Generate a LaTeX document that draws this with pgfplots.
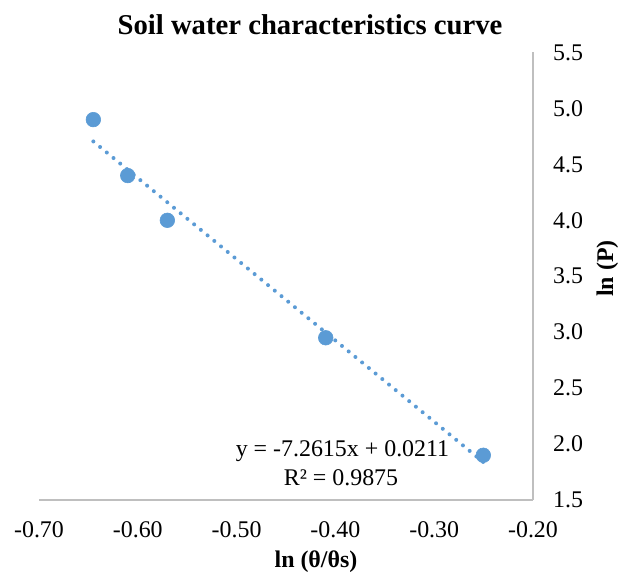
\documentclass[border=0pt]{standalone}
\usepackage{pgfplots}
\pgfplotsset{compat=1.18}
\usepackage{fontspec}
\setmainfont{Liberation Serif}
\definecolor{xlblue}{RGB}{91,155,213}
\definecolor{axisgray}{RGB}{191,191,191}
\begin{document}
\begin{tikzpicture}
\path[use as bounding box] (-39bp,-75bp) rectangle (580bp,500bp);
\begin{axis}[
  at={(0,0)}, anchor=south west,
  scale only axis, width=494bp, height=447.5bp,
  xmin=-0.7, xmax=-0.2, ymin=1.5, ymax=5.5,
  axis x line*=bottom, axis y line*=right,
  axis line style={draw=axisgray, line width=1.6bp},
  xtick={-0.7,-0.6,-0.5,-0.4,-0.3,-0.2},
  xticklabels={-0.70,-0.60,-0.50,-0.40,-0.30,-0.20},
  ytick={1.5,2,2.5,3,3.5,4,4.5,5,5.5},
  yticklabels={1.5,2.0,2.5,3.0,3.5,4.0,4.5,5.0,5.5},
  major tick length=0pt,
  tick label style={font=\fontsize{24}{28}\selectfont, inner sep=0pt},
  xticklabel shift=21bp, yticklabel shift=20bp,
  clip=false,
]
\addplot[xlblue, line width=4bp, line cap=round, dash pattern=on 0pt off 8.7bp]
  coordinates {(-0.6450,4.7048) (-0.2503,1.8386)};
\addplot[xlblue, only marks, mark=*, mark size=7.3bp, mark options={fill=xlblue, draw=xlblue, line width=0.6bp}]
  coordinates {(-0.6450,4.90) (-0.6102,4.40) (-0.5701,4.00) (-0.4098,2.95) (-0.2503,1.90)};
\end{axis}
\node[anchor=base, font=\bfseries\fontsize{28.8}{34}\selectfont, inner sep=0pt] at (271bp,465bp) {Soil water characteristics curve};
\node[anchor=base, font=\bfseries\fontsize{24}{28}\selectfont, inner sep=0pt] at (277bp,-67bp) {ln (θ/θs)};
\node[anchor=base, rotate=90, font=\bfseries\fontsize{24}{28}\selectfont, inner sep=0pt] at (574bp,231.5bp) {ln (P)};
\node[anchor=base, font=\fontsize{24}{28}\selectfont, inner sep=0pt] at (303.5bp,43bp) {y = -7.2615x + 0.0211};
\node[anchor=base, font=\fontsize{24}{28}\selectfont, inner sep=0pt] at (302bp,15bp) {R² = 0.9875};
\end{tikzpicture}
\end{document}
